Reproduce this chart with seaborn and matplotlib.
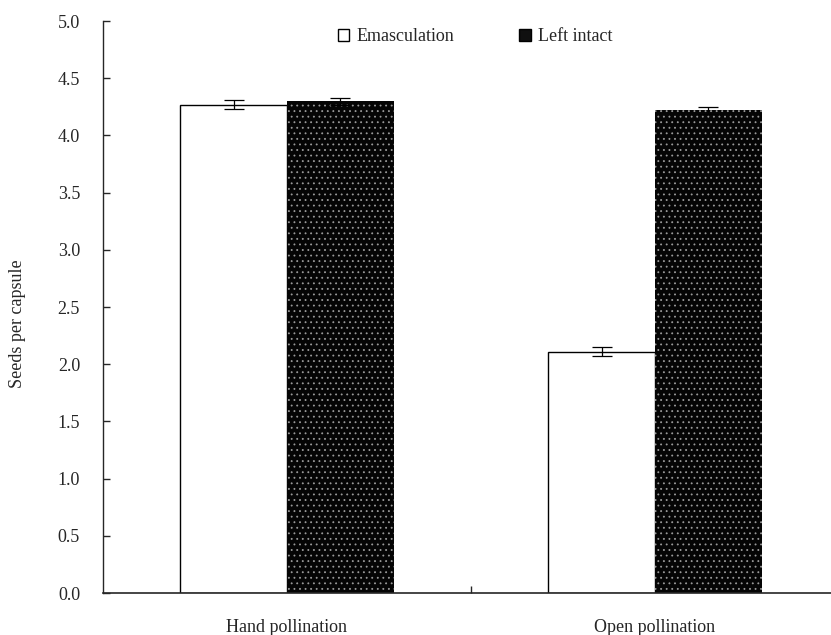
import matplotlib
matplotlib.use("Agg")
import matplotlib.pyplot as plt
import seaborn as sns
import pandas as pd
from matplotlib.patches import Patch

categories = ["Hand pollination", "Open pollination"]
treatments = ["Emasculation", "Left intact"]
emasc_mean = [4.27, 2.11]
emasc_se = [0.04, 0.04]
intact_mean = [4.30, 4.22]
intact_se = [0.03, 0.03]
yticks = [0.0, 0.5, 1.0, 1.5, 2.0, 2.5, 3.0, 3.5, 4.0, 4.5, 5.0]

rows = []
for i, c in enumerate(categories):
    rows.append({"pollination": c, "treatment": treatments[0], "mean": emasc_mean[i], "se": emasc_se[i]})
for i, c in enumerate(categories):
    rows.append({"pollination": c, "treatment": treatments[1], "mean": intact_mean[i], "se": intact_se[i]})
df = pd.DataFrame(rows)

sns.set_style("ticks")
plt.rcParams["font.family"] = ["Liberation Serif", "DejaVu Serif"]
plt.rcParams["hatch.linewidth"] = 0.6

fig = plt.figure(figsize=(8.31, 6.35), dpi=100)
ax = fig.add_axes([103 / 831, 42 / 635, 736 / 831, 572 / 635])

sns.barplot(data=df, x="pollination", y="mean", hue="treatment", order=categories,
            hue_order=treatments, palette=["white", "#050505"], edgecolor="black",
            linewidth=1.0, width=0.58, errorbar=None, ax=ax, legend=False, saturation=1)

# dotted texture on dark bars
n = len(categories)
for k, p in enumerate(ax.patches[:2 * n]):
    cx = p.get_x() + p.get_width() / 2
    h = p.get_height()
    if k >= n:
        p.set_hatch("...")
        p.set_edgecolor("#9a9a9a")
        p.set_linewidth(0)
        se = intact_se[k - n]
    else:
        se = emasc_se[k]
    ax.errorbar(cx, h, yerr=se, fmt="none", ecolor="black", elinewidth=0.9,
                capsize=7, capthick=0.9, zorder=5)

ax.set_xlim(-0.5, 1.5)
ax.set_ylim(0, 5.0)
ax.set_yticks(yticks)
ax.set_yticklabels([f"{v:.1f}" for v in yticks])
ax.tick_params(axis="y", direction="in", length=5, width=1, pad=16.5, labelsize=13)
ax.tick_params(axis="x", which="major", length=0, pad=19, labelsize=13)
ax.set_xticks([0.5], minor=True)
ax.tick_params(axis="x", which="minor", direction="in", length=5, width=1)
ax.set_xlabel("")
ax.set_ylabel("Seeds per capsule", fontsize=13)
ax.yaxis.set_label_coords(-0.105, 0.47)
for s in ["top", "right"]:
    ax.spines[s].set_visible(False)
ax.spines["left"].set_linewidth(1)
ax.spines["bottom"].set_linewidth(1.2)

handles = [Patch(facecolor="white", edgecolor="black", linewidth=1),
           Patch(facecolor="#101010", edgecolor="black", linewidth=1)]
fig.legend(handles, treatments, loc="center", bbox_to_anchor=(0.572, 0.942),
           ncol=2, frameon=False, fontsize=13, handlelength=0.65, handleheight=0.65,
           handletextpad=0.4, columnspacing=3.6)

fig.savefig("out.png", dpi=100)
